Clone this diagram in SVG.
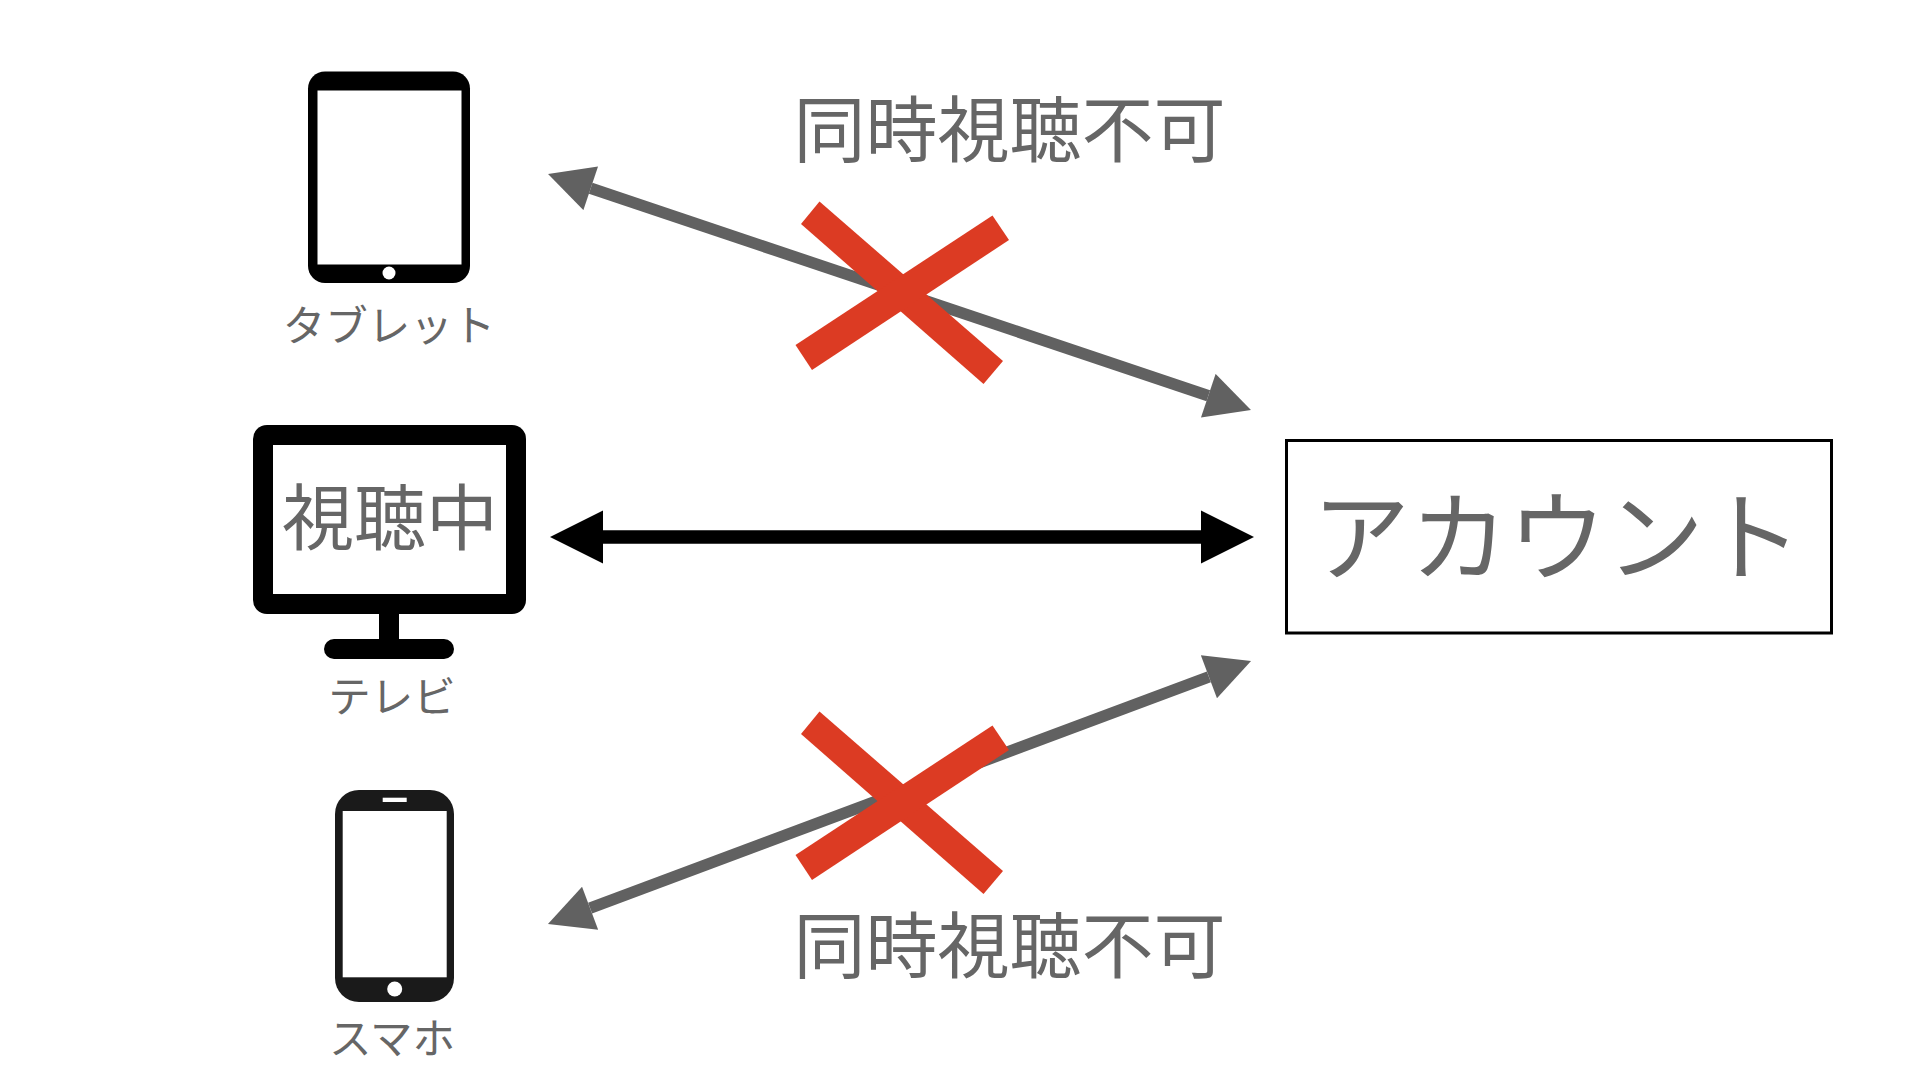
<svg xmlns="http://www.w3.org/2000/svg" width="1920" height="1080" viewBox="0 0 1920 1080">
  <style>
    text { font-family: "Noto Sans CJK JP", "Noto Sans", sans-serif; fill: #666666; text-anchor: middle; font-weight: 400; }
    .big { font-size: 72px; }
    .small { font-size: 42.5px; }
    .account { font-size: 98px; }
    .screen { fill: #ffffff; }
    .gray { stroke: #616161; stroke-width: 11.5; fill: none; marker-start: url(#headGray); marker-end: url(#headGray); }
    .black { stroke: #000000; stroke-width: 13.5; fill: none; marker-start: url(#headBlack); marker-end: url(#headBlack); }
  </style>
  <defs>
    <marker id="headGray" markerUnits="userSpaceOnUse" viewBox="0 0 46 46" refX="1" refY="23" markerWidth="46" markerHeight="46" orient="auto-start-reverse">
      <path d="M1,0 L46,23 L1,46 Z" fill="#616161"/>
    </marker>
    <marker id="headBlack" markerUnits="userSpaceOnUse" viewBox="0 0 54 54" refX="1" refY="27" markerWidth="54" markerHeight="54" orient="auto-start-reverse">
      <path d="M1,0.5 L54,27 L1,53.5 Z" fill="#000000"/>
    </marker>
    <g id="cross" fill="#dc3b23">
      <polygon points="819.5,201.5 1003,361 983.5,384 801,224"/>
      <polygon points="992.5,215.5 1009,240 812,370 795.5,345"/>
    </g>
  </defs>
  <rect width="1920" height="1080" fill="#ffffff"/>

  <g id="connectors">
    <line class="gray" x1="590.7" y1="188.3" x2="1208.3" y2="395.7"/>
    <line class="black" x1="603" y1="537" x2="1201" y2="537"/>
    <line class="gray" x1="590.1" y1="908.2" x2="1208.9" y2="676.8"/>
  </g>

  <g id="tablet">
    <rect x="308" y="71.5" width="162" height="211.5" rx="17" fill="#000000"/>
    <rect class="screen" x="317.5" y="90.5" width="144" height="174"/>
    <circle class="screen" cx="389" cy="273" r="6.5"/>
    <text class="small" x="389" y="341">タブレット</text>
  </g>

  <g id="tv">
    <rect x="253" y="425" width="273" height="189" rx="14" fill="#000000"/>
    <rect class="screen" x="273" y="445" width="233" height="149"/>
    <rect x="379" y="612" width="20" height="30" fill="#000000"/>
    <rect x="324" y="639" width="130" height="20" rx="10" fill="#000000"/>
    <text class="big" x="390" y="544">視聴中</text>
    <text class="small" x="392" y="712">テレビ</text>
  </g>

  <g id="phone">
    <rect x="335" y="790" width="119" height="212" rx="24" fill="#1a1a1a"/>
    <rect class="screen" x="342.7" y="811" width="104" height="166.3"/>
    <rect class="screen" x="382.7" y="797.7" width="24" height="4.3"/>
    <circle class="screen" cx="394.7" cy="989" r="7.5"/>
    <text class="small" x="392" y="1054">スマホ</text>
  </g>

  <g id="account">
    <rect x="1286.5" y="440.5" width="545" height="192.5" fill="#ffffff" stroke="#000000" stroke-width="3"/>
    <text class="account" x="1557" y="573">アカウント</text>
  </g>

  <g id="blocked-top">
    <use href="#cross"/>
    <text class="big" x="1009.5" y="156">同時視聴不可</text>
  </g>

  <g id="blocked-bottom">
    <use href="#cross" transform="translate(0 510)"/>
    <text class="big" x="1009.5" y="972">同時視聴不可</text>
  </g>
</svg>
